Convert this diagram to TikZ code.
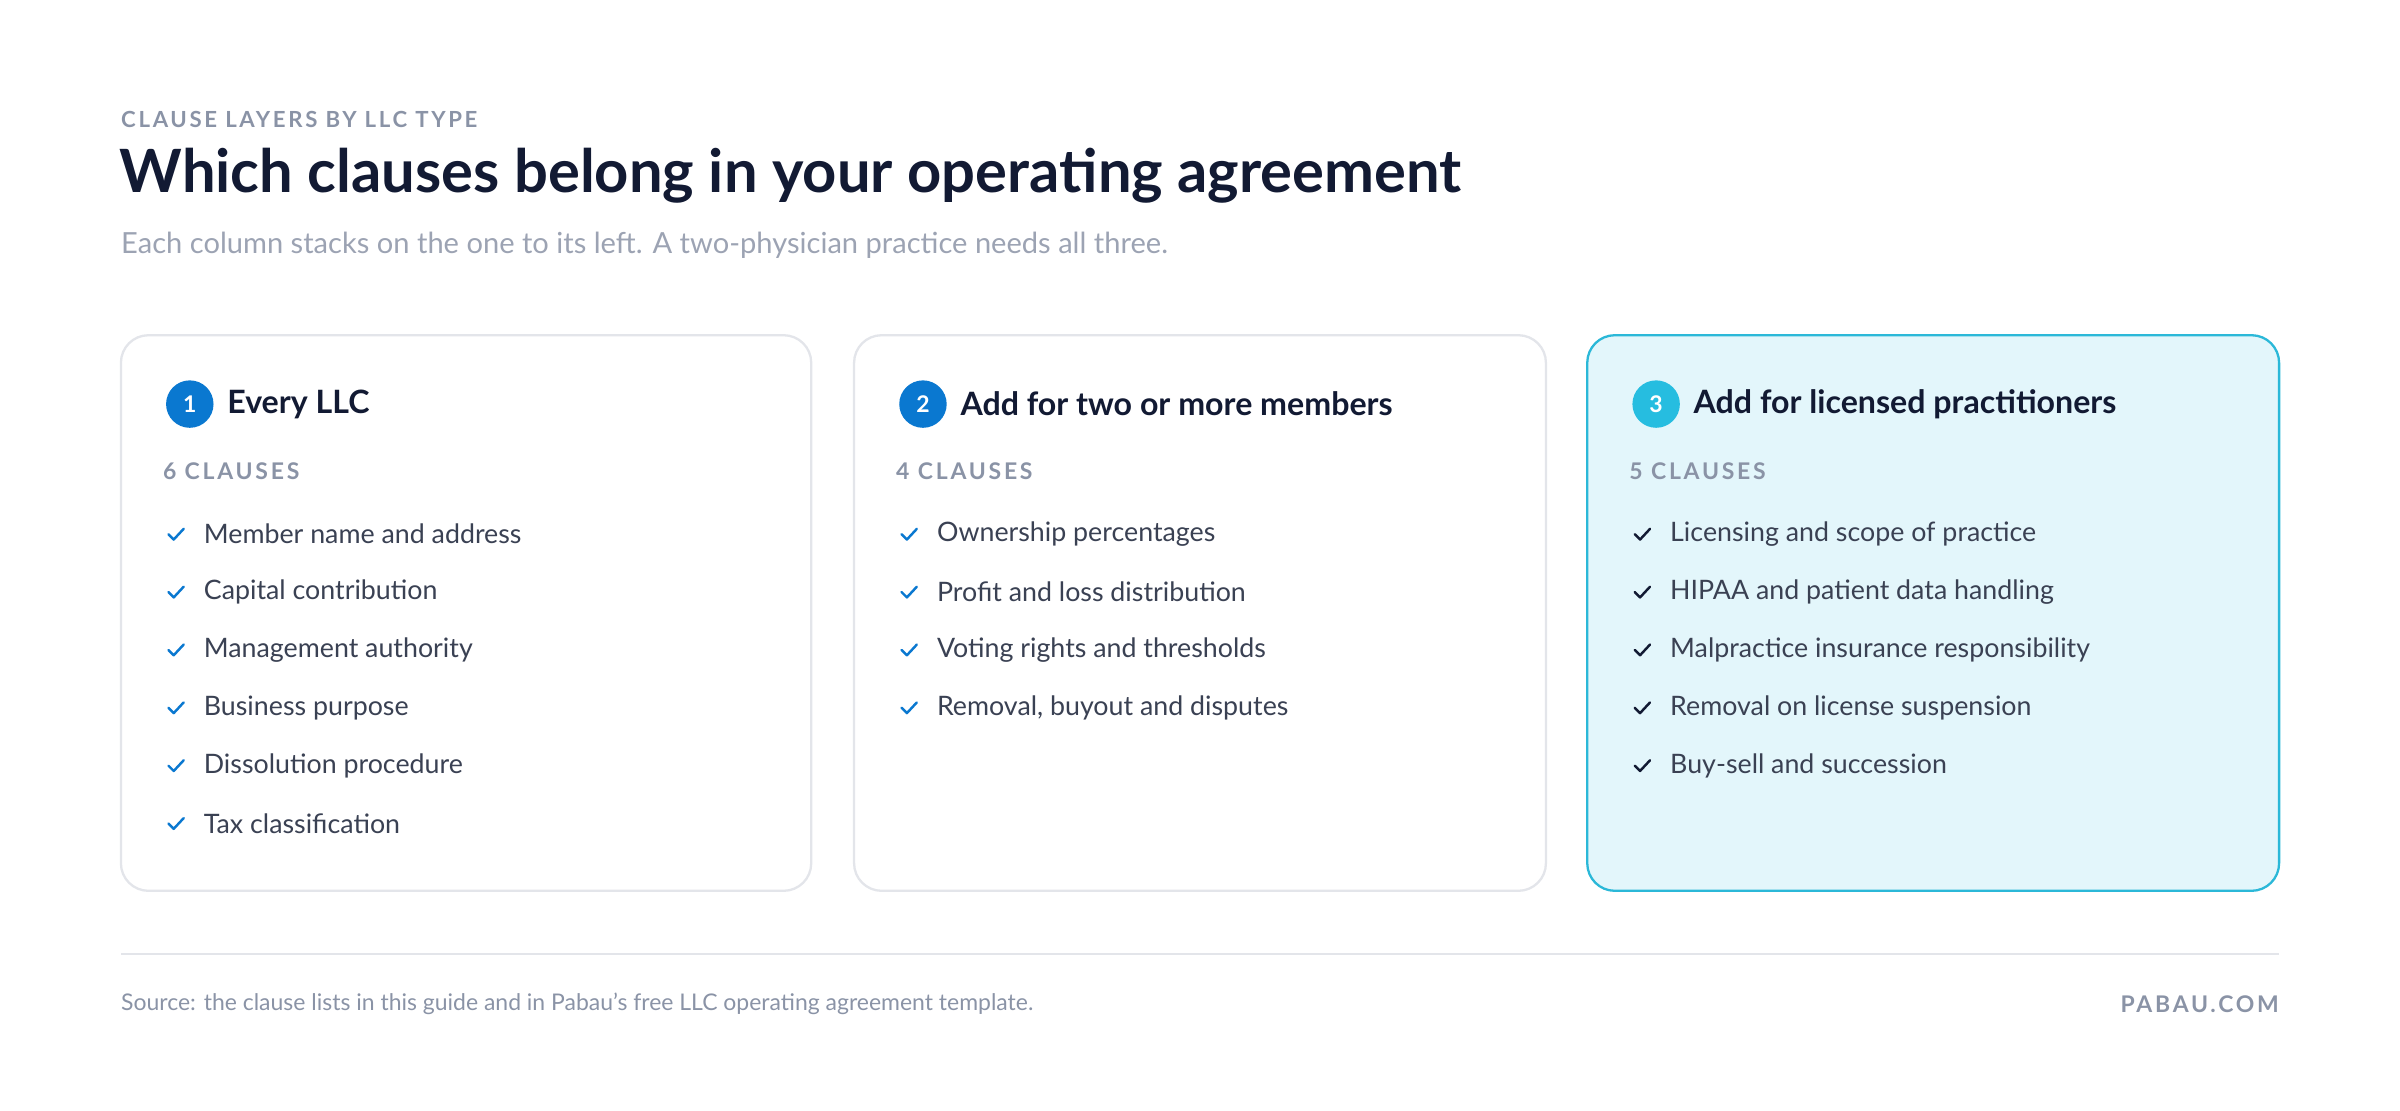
\documentclass[tikz,border=0pt]{standalone}
\usepackage{fontspec}
\setmainfont{Lato}
\newfontfamily\spaced[LetterSpace=12]{Lato}
\definecolor{ink}{HTML}{121A33}
\definecolor{graytxt}{HTML}{8A93A6}
\definecolor{body}{HTML}{3A4153}
\definecolor{bord}{HTML}{E3E5EA}
\definecolor{blue1}{HTML}{0A78D0}
\definecolor{cyan1}{HTML}{26BDE0}
\definecolor{cfill}{HTML}{E3F6FB}
\definecolor{cbord}{HTML}{2BB8D8}
\begin{document}
\begin{tikzpicture}[x=1pt,y=-1pt,
  card/.style={draw=bord,line width=1.5pt,rounded corners=18pt,fill=white},
  num/.style={circle,minimum size=31pt,inner sep=0pt,text=white,font=\fontsize{15}{15}\selectfont\bfseries},
  head/.style={anchor=west,text=ink,font=\fontsize{21}{21}\selectfont\bfseries},
  cnt/.style={anchor=west,text=graytxt,font=\fontsize{15}{15}\selectfont\spaced\bfseries},
  item/.style={anchor=west,text=body,font=\fontsize{17.5}{18}\selectfont,inner sep=0pt},
  chk/.style={line width=1.6pt,line cap=round,line join=round}]
\useasboundingbox (0,0) rectangle (1568,725.2);
\node[anchor=west,text=graytxt,font=\fontsize{14.5}{14}\selectfont\spaced\bfseries,inner sep=0pt] (kick) at (79,78) {CLAUSE LAYERS BY LLC TYPE};
\node[anchor=base west,text=ink,font=\fontsize{39}{39}\selectfont\bfseries,inner sep=0pt] (title) at (78,126) {Which clauses belong in your operating agreement};
\node[anchor=west,text=graytxt!85,font=\fontsize{19}{19}\selectfont,inner sep=0pt] (sub) at (79,160) {Each column stacks on the one to its left. A two-physician practice needs all three.};
\draw[card] (79,219) rectangle (530,582);
\draw[card] (558,219) rectangle (1010,582);
\draw[card,draw=cbord,fill=cfill] (1037,219) rectangle (1489,582);
\def\col#1#2#3#4#5#6#7{%
  \node[num,fill=#3] (n#1) at (#2+45,264) {#1};
  \node[head] (h#1) at (#2+66,264) {#4};
  \node[cnt] (c#1) at (#2+24,308) {#5};
  \foreach \t [count=\i] in {#6} {
    \pgfmathsetmacro\yy{349+(\i-1)*37.8}
    \draw[chk,draw=#7] (#2+31,\yy) -- (#2+34.5,\yy+3.5) -- (#2+41,\yy-3.5);
    \node[item] (i#1\i) at (#2+54,\yy) {\t};
  }}
\col{1}{79}{blue1}{Every LLC}{6 CLAUSES}{Member name and address,Capital contribution,Management authority,Business purpose,Dissolution procedure,Tax classification}{blue1}
\col{2}{558}{blue1}{Add for two or more members}{4 CLAUSES}{Ownership percentages,Profit and loss distribution,Voting rights and thresholds,{Removal, buyout and disputes}}{blue1}
\col{3}{1037}{cyan1}{Add for licensed practitioners}{5 CLAUSES}{Licensing and scope of practice,HIPAA and patient data handling,Malpractice insurance responsibility,Removal on license suspension,Buy-sell and succession}{ink}
\draw[bord,line width=1.2pt] (79,623) -- (1489,623);
\node[anchor=west,text=graytxt,font=\fontsize{15}{15}\selectfont,inner sep=0pt] (src) at (79,656) {Source: the clause lists in this guide and in Pabau's free LLC operating agreement template.};
\node[anchor=east,text=graytxt,font=\fontsize{15}{15}\selectfont\spaced\bfseries,inner sep=0pt] (brand) at (1489,656) {PABAU.COM};
\end{tikzpicture}
\end{document}
